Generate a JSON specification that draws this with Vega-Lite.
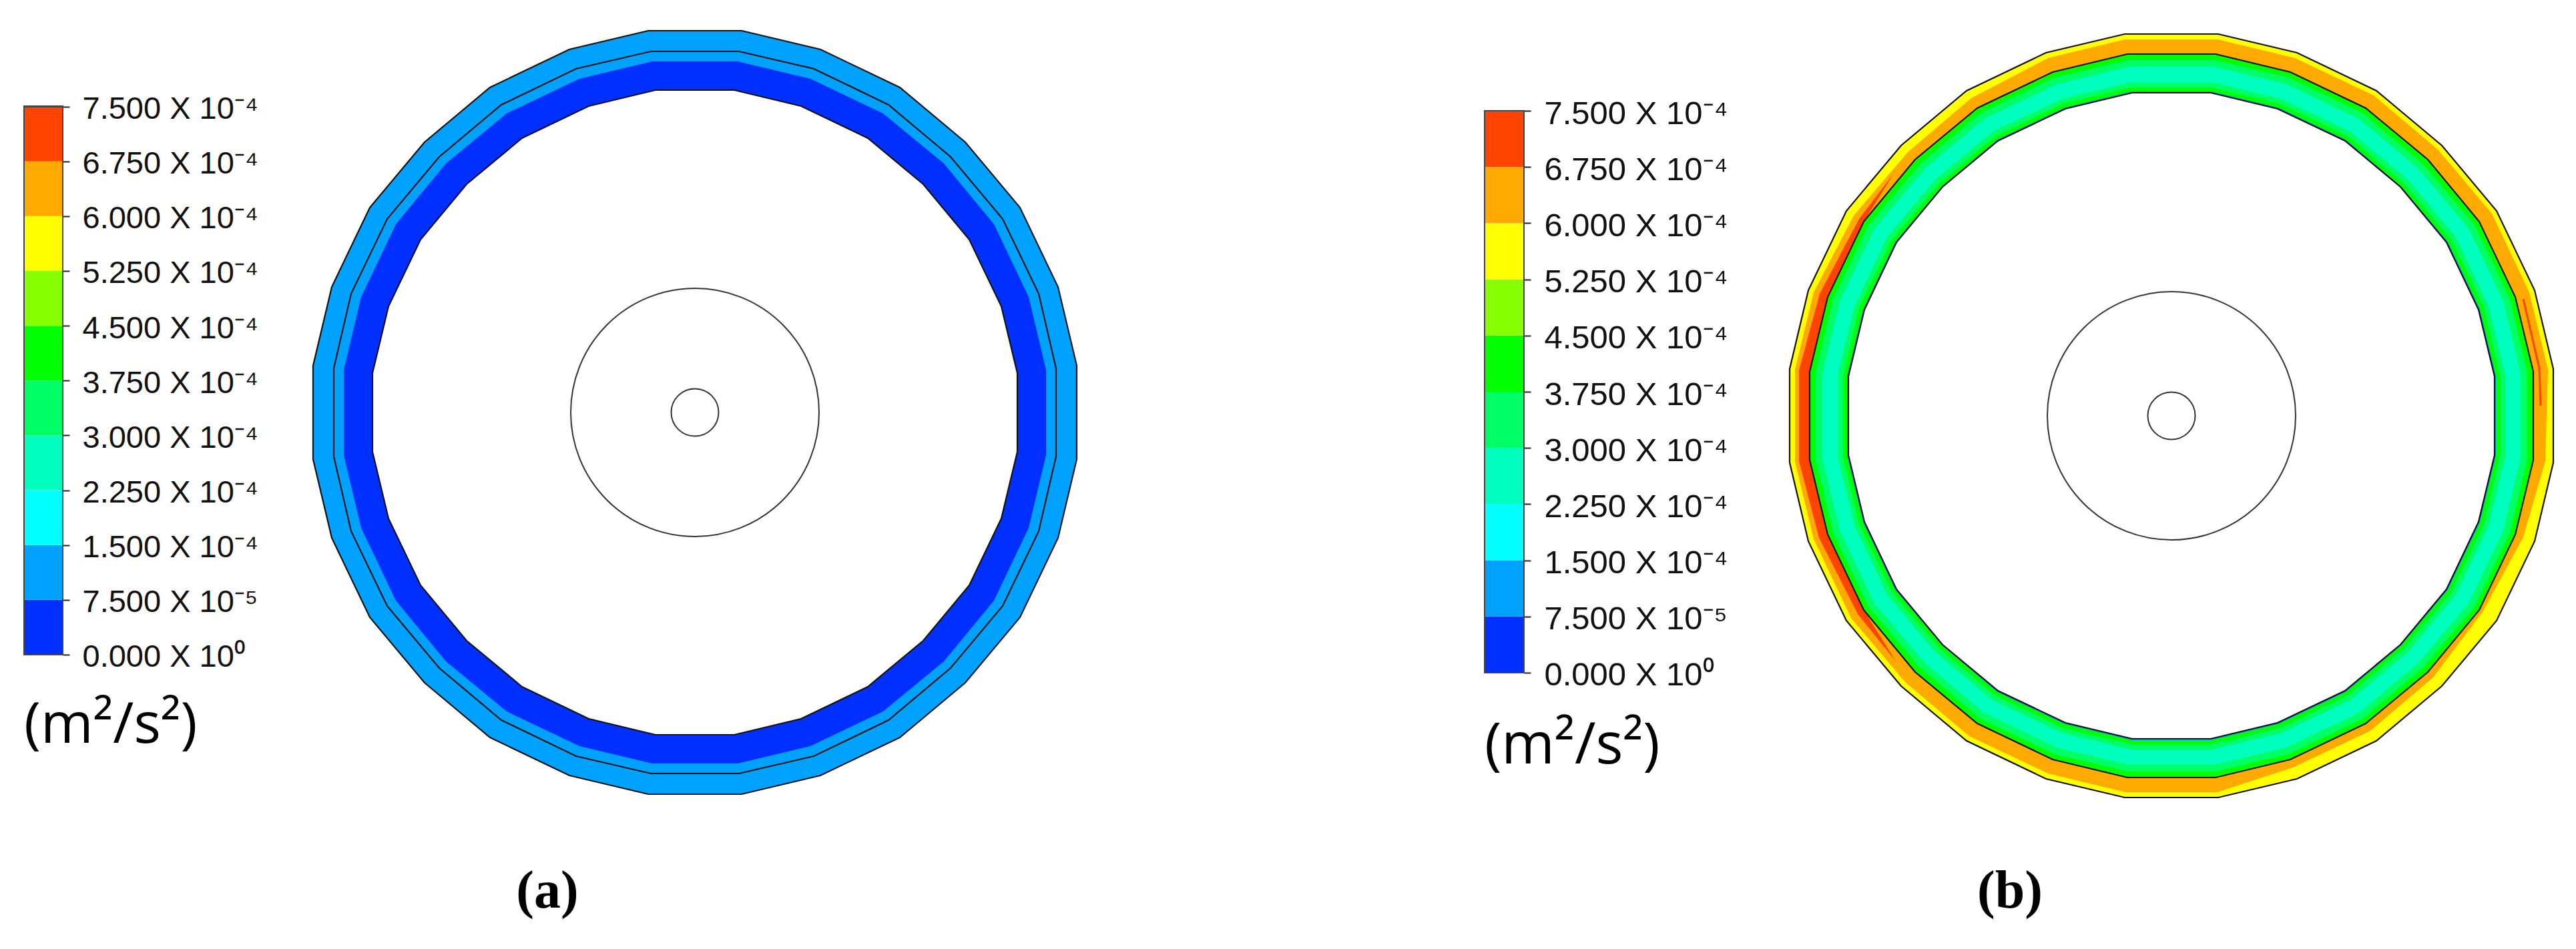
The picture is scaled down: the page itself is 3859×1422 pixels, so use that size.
{"$schema":"https://vega.github.io/schema/vega-lite/v6.json","padding":{"left":35,"top":0,"right":0,"bottom":0},"background":"white","bounds":"flush","spacing":0,"resolve":{"scale":{"fill":"independent","size":"independent"}},"config":{"view":{"stroke":null}},
"datasets":{
"bands":[{"lo":0,"hi":0.000075},{"lo":0.000075,"hi":0.00015},{"lo":0.00015,"hi":0.000225},{"lo":0.000225,"hi":0.0003},{"lo":0.0003,"hi":0.000375},{"lo":0.000375,"hi":0.00045},{"lo":0.00045,"hi":0.000525},{"lo":0.000525,"hi":0.0006},{"lo":0.0006,"hi":0.000675},{"lo":0.000675,"hi":0.00075}],
"circles":[{"x":0,"y":0,"r":186},{"x":0,"y":0,"r":35.5}],
"a":[
{"ring":"outer","x":70,"y":572},{"ring":"outer","x":188,"y":544},{"ring":"outer","x":307,"y":487},{"ring":"outer","x":405,"y":405},{"ring":"outer","x":487,"y":307},{"ring":"outer","x":544,"y":188},{"ring":"outer","x":572,"y":70},{"ring":"outer","x":572,"y":-70},{"ring":"outer","x":544,"y":-188},{"ring":"outer","x":487,"y":-307},{"ring":"outer","x":405,"y":-405},{"ring":"outer","x":307,"y":-487},{"ring":"outer","x":188,"y":-544},{"ring":"outer","x":70,"y":-572},{"ring":"outer","x":-70,"y":-572},{"ring":"outer","x":-188,"y":-544},{"ring":"outer","x":-307,"y":-487},{"ring":"outer","x":-405,"y":-405},{"ring":"outer","x":-487,"y":-307},{"ring":"outer","x":-544,"y":-188},{"ring":"outer","x":-572,"y":-70},{"ring":"outer","x":-572,"y":70},{"ring":"outer","x":-544,"y":188},{"ring":"outer","x":-487,"y":307},{"ring":"outer","x":-405,"y":405},{"ring":"outer","x":-307,"y":487},{"ring":"outer","x":-188,"y":544},{"ring":"outer","x":-70,"y":572},
{"ring":"dark","x":64,"y":526},{"ring":"dark","x":173,"y":500},{"ring":"dark","x":282,"y":448},{"ring":"dark","x":373,"y":373},{"ring":"dark","x":448,"y":282},{"ring":"dark","x":500,"y":173},{"ring":"dark","x":526,"y":64},{"ring":"dark","x":526,"y":-64},{"ring":"dark","x":500,"y":-173},{"ring":"dark","x":448,"y":-282},{"ring":"dark","x":373,"y":-373},{"ring":"dark","x":282,"y":-448},{"ring":"dark","x":173,"y":-500},{"ring":"dark","x":64,"y":-526},{"ring":"dark","x":-64,"y":-526},{"ring":"dark","x":-173,"y":-500},{"ring":"dark","x":-282,"y":-448},{"ring":"dark","x":-373,"y":-373},{"ring":"dark","x":-448,"y":-282},{"ring":"dark","x":-500,"y":-173},{"ring":"dark","x":-526,"y":-64},{"ring":"dark","x":-526,"y":64},{"ring":"dark","x":-500,"y":173},{"ring":"dark","x":-448,"y":282},{"ring":"dark","x":-373,"y":373},{"ring":"dark","x":-282,"y":448},{"ring":"dark","x":-173,"y":500},{"ring":"dark","x":-64,"y":526},
{"ring":"inner","x":59,"y":483},{"ring":"inner","x":159,"y":459},{"ring":"inner","x":259,"y":411},{"ring":"inner","x":342,"y":342},{"ring":"inner","x":411,"y":259},{"ring":"inner","x":459,"y":159},{"ring":"inner","x":483,"y":59},{"ring":"inner","x":483,"y":-59},{"ring":"inner","x":459,"y":-159},{"ring":"inner","x":411,"y":-259},{"ring":"inner","x":342,"y":-342},{"ring":"inner","x":259,"y":-411},{"ring":"inner","x":159,"y":-459},{"ring":"inner","x":59,"y":-483},{"ring":"inner","x":-59,"y":-483},{"ring":"inner","x":-159,"y":-459},{"ring":"inner","x":-259,"y":-411},{"ring":"inner","x":-342,"y":-342},{"ring":"inner","x":-411,"y":-259},{"ring":"inner","x":-459,"y":-159},{"ring":"inner","x":-483,"y":-59},{"ring":"inner","x":-483,"y":59},{"ring":"inner","x":-459,"y":159},{"ring":"inner","x":-411,"y":259},{"ring":"inner","x":-342,"y":342},{"ring":"inner","x":-259,"y":411},{"ring":"inner","x":-159,"y":459},{"ring":"inner","x":-59,"y":483},
{"ring":"line","x":66,"y":541},{"ring":"line","x":178,"y":515},{"ring":"line","x":290,"y":461},{"ring":"line","x":383,"y":383},{"ring":"line","x":461,"y":290},{"ring":"line","x":515,"y":178},{"ring":"line","x":541,"y":66},{"ring":"line","x":541,"y":-66},{"ring":"line","x":515,"y":-178},{"ring":"line","x":461,"y":-290},{"ring":"line","x":383,"y":-383},{"ring":"line","x":290,"y":-461},{"ring":"line","x":178,"y":-515},{"ring":"line","x":66,"y":-541},{"ring":"line","x":-66,"y":-541},{"ring":"line","x":-178,"y":-515},{"ring":"line","x":-290,"y":-461},{"ring":"line","x":-383,"y":-383},{"ring":"line","x":-461,"y":-290},{"ring":"line","x":-515,"y":-178},{"ring":"line","x":-541,"y":-66},{"ring":"line","x":-541,"y":66},{"ring":"line","x":-515,"y":178},{"ring":"line","x":-461,"y":290},{"ring":"line","x":-383,"y":383},{"ring":"line","x":-290,"y":461},{"ring":"line","x":-178,"y":515},{"ring":"line","x":-66,"y":541}
],
"b":[
{"ring":"yellow","x":70,"y":572},{"ring":"yellow","x":188,"y":544},{"ring":"yellow","x":307,"y":487},{"ring":"yellow","x":405,"y":405},{"ring":"yellow","x":487,"y":307},{"ring":"yellow","x":544,"y":188},{"ring":"yellow","x":572,"y":70},{"ring":"yellow","x":572,"y":-70},{"ring":"yellow","x":544,"y":-188},{"ring":"yellow","x":487,"y":-307},{"ring":"yellow","x":405,"y":-405},{"ring":"yellow","x":307,"y":-487},{"ring":"yellow","x":188,"y":-544},{"ring":"yellow","x":70,"y":-572},{"ring":"yellow","x":-70,"y":-572},{"ring":"yellow","x":-188,"y":-544},{"ring":"yellow","x":-307,"y":-487},{"ring":"yellow","x":-405,"y":-405},{"ring":"yellow","x":-487,"y":-307},{"ring":"yellow","x":-544,"y":-188},{"ring":"yellow","x":-572,"y":-70},{"ring":"yellow","x":-572,"y":70},{"ring":"yellow","x":-544,"y":188},{"ring":"yellow","x":-487,"y":307},{"ring":"yellow","x":-405,"y":405},{"ring":"yellow","x":-307,"y":487},{"ring":"yellow","x":-188,"y":544},{"ring":"yellow","x":-70,"y":572},
{"ring":"orange","x":69,"y":564},{"ring":"orange","x":185,"y":536},{"ring":"orange","x":303,"y":480},{"ring":"orange","x":399,"y":399},{"ring":"orange","x":480,"y":303},{"ring":"orange","x":536,"y":185},{"ring":"orange","x":564,"y":69},{"ring":"orange","x":560,"y":-68},{"ring":"orange","x":527,"y":-182},{"ring":"orange","x":466,"y":-294},{"ring":"orange","x":392,"y":-392},{"ring":"orange","x":298,"y":-472},{"ring":"orange","x":182,"y":-527},{"ring":"orange","x":69,"y":-564},{"ring":"orange","x":-69,"y":-564},{"ring":"orange","x":-185,"y":-536},{"ring":"orange","x":-303,"y":-480},{"ring":"orange","x":-399,"y":-399},{"ring":"orange","x":-480,"y":-303},{"ring":"orange","x":-536,"y":-185},{"ring":"orange","x":-564,"y":-69},{"ring":"orange","x":-564,"y":69},{"ring":"orange","x":-536,"y":185},{"ring":"orange","x":-476,"y":300},{"ring":"orange","x":-395,"y":395},{"ring":"orange","x":-300,"y":476},{"ring":"orange","x":-185,"y":536},{"ring":"orange","x":-69,"y":564},
{"ring":"red","x":-417,"y":362},{"ring":"red","x":-468,"y":295},{"ring":"red","x":-527,"y":183},{"ring":"red","x":-558,"y":68},{"ring":"red","x":-558,"y":-68},{"ring":"red","x":-528,"y":-183},{"ring":"red","x":-470,"y":-297},{"ring":"red","x":-413,"y":-368},{"ring":"red","x":-461,"y":-291},{"ring":"red","x":-515,"y":-178},{"ring":"red","x":-542,"y":-66},{"ring":"red","x":-542,"y":66},{"ring":"red","x":-515,"y":178},{"ring":"red","x":-461,"y":291},
{"ring":"streak","x":527,"y":175},{"ring":"streak","x":551,"y":71},{"ring":"streak","x":553,"y":15},
{"ring":"g1","x":66,"y":542},{"ring":"g1","x":178,"y":515},{"ring":"g1","x":291,"y":461},{"ring":"g1","x":384,"y":384},{"ring":"g1","x":461,"y":291},{"ring":"g1","x":515,"y":178},{"ring":"g1","x":542,"y":66},{"ring":"g1","x":542,"y":-66},{"ring":"g1","x":515,"y":-178},{"ring":"g1","x":461,"y":-291},{"ring":"g1","x":384,"y":-384},{"ring":"g1","x":291,"y":-461},{"ring":"g1","x":178,"y":-515},{"ring":"g1","x":66,"y":-542},{"ring":"g1","x":-66,"y":-542},{"ring":"g1","x":-178,"y":-515},{"ring":"g1","x":-291,"y":-461},{"ring":"g1","x":-384,"y":-384},{"ring":"g1","x":-461,"y":-291},{"ring":"g1","x":-515,"y":-178},{"ring":"g1","x":-542,"y":-66},{"ring":"g1","x":-542,"y":66},{"ring":"g1","x":-515,"y":178},{"ring":"g1","x":-461,"y":291},{"ring":"g1","x":-384,"y":384},{"ring":"g1","x":-291,"y":461},{"ring":"g1","x":-178,"y":515},{"ring":"g1","x":-66,"y":542},
{"ring":"g2","x":65,"y":533},{"ring":"g2","x":175,"y":507},{"ring":"g2","x":286,"y":454},{"ring":"g2","x":377,"y":377},{"ring":"g2","x":454,"y":286},{"ring":"g2","x":507,"y":175},{"ring":"g2","x":533,"y":65},{"ring":"g2","x":533,"y":-65},{"ring":"g2","x":507,"y":-175},{"ring":"g2","x":454,"y":-286},{"ring":"g2","x":377,"y":-377},{"ring":"g2","x":286,"y":-454},{"ring":"g2","x":175,"y":-507},{"ring":"g2","x":65,"y":-533},{"ring":"g2","x":-65,"y":-533},{"ring":"g2","x":-175,"y":-507},{"ring":"g2","x":-286,"y":-454},{"ring":"g2","x":-377,"y":-377},{"ring":"g2","x":-454,"y":-286},{"ring":"g2","x":-507,"y":-175},{"ring":"g2","x":-533,"y":-65},{"ring":"g2","x":-533,"y":65},{"ring":"g2","x":-507,"y":175},{"ring":"g2","x":-454,"y":286},{"ring":"g2","x":-377,"y":377},{"ring":"g2","x":-286,"y":454},{"ring":"g2","x":-175,"y":507},{"ring":"g2","x":-65,"y":533},
{"ring":"teal","x":64,"y":523},{"ring":"teal","x":172,"y":497},{"ring":"teal","x":281,"y":445},{"ring":"teal","x":370,"y":370},{"ring":"teal","x":445,"y":281},{"ring":"teal","x":497,"y":172},{"ring":"teal","x":523,"y":64},{"ring":"teal","x":523,"y":-64},{"ring":"teal","x":497,"y":-172},{"ring":"teal","x":445,"y":-281},{"ring":"teal","x":370,"y":-370},{"ring":"teal","x":281,"y":-445},{"ring":"teal","x":172,"y":-497},{"ring":"teal","x":64,"y":-523},{"ring":"teal","x":-64,"y":-523},{"ring":"teal","x":-172,"y":-497},{"ring":"teal","x":-281,"y":-445},{"ring":"teal","x":-370,"y":-370},{"ring":"teal","x":-445,"y":-281},{"ring":"teal","x":-497,"y":-172},{"ring":"teal","x":-523,"y":-64},{"ring":"teal","x":-523,"y":64},{"ring":"teal","x":-497,"y":172},{"ring":"teal","x":-445,"y":281},{"ring":"teal","x":-370,"y":370},{"ring":"teal","x":-281,"y":445},{"ring":"teal","x":-172,"y":497},{"ring":"teal","x":-64,"y":523},
{"ring":"g3","x":61,"y":500},{"ring":"g3","x":164,"y":475},{"ring":"g3","x":268,"y":426},{"ring":"g3","x":354,"y":354},{"ring":"g3","x":426,"y":268},{"ring":"g3","x":475,"y":164},{"ring":"g3","x":500,"y":61},{"ring":"g3","x":500,"y":-61},{"ring":"g3","x":475,"y":-164},{"ring":"g3","x":426,"y":-268},{"ring":"g3","x":354,"y":-354},{"ring":"g3","x":268,"y":-426},{"ring":"g3","x":164,"y":-475},{"ring":"g3","x":61,"y":-500},{"ring":"g3","x":-61,"y":-500},{"ring":"g3","x":-164,"y":-475},{"ring":"g3","x":-268,"y":-426},{"ring":"g3","x":-354,"y":-354},{"ring":"g3","x":-426,"y":-268},{"ring":"g3","x":-475,"y":-164},{"ring":"g3","x":-500,"y":-61},{"ring":"g3","x":-500,"y":61},{"ring":"g3","x":-475,"y":164},{"ring":"g3","x":-426,"y":268},{"ring":"g3","x":-354,"y":354},{"ring":"g3","x":-268,"y":426},{"ring":"g3","x":-164,"y":475},{"ring":"g3","x":-61,"y":500},
{"ring":"g4","x":60,"y":492},{"ring":"g4","x":162,"y":468},{"ring":"g4","x":264,"y":419},{"ring":"g4","x":348,"y":348},{"ring":"g4","x":419,"y":264},{"ring":"g4","x":468,"y":162},{"ring":"g4","x":492,"y":60},{"ring":"g4","x":492,"y":-60},{"ring":"g4","x":468,"y":-162},{"ring":"g4","x":419,"y":-264},{"ring":"g4","x":348,"y":-348},{"ring":"g4","x":264,"y":-419},{"ring":"g4","x":162,"y":-468},{"ring":"g4","x":60,"y":-492},{"ring":"g4","x":-60,"y":-492},{"ring":"g4","x":-162,"y":-468},{"ring":"g4","x":-264,"y":-419},{"ring":"g4","x":-348,"y":-348},{"ring":"g4","x":-419,"y":-264},{"ring":"g4","x":-468,"y":-162},{"ring":"g4","x":-492,"y":-60},{"ring":"g4","x":-492,"y":60},{"ring":"g4","x":-468,"y":162},{"ring":"g4","x":-419,"y":264},{"ring":"g4","x":-348,"y":348},{"ring":"g4","x":-264,"y":419},{"ring":"g4","x":-162,"y":468},{"ring":"g4","x":-60,"y":492},
{"ring":"blue","x":60,"y":486},{"ring":"blue","x":160,"y":462},{"ring":"blue","x":261,"y":414},{"ring":"blue","x":344,"y":344},{"ring":"blue","x":414,"y":261},{"ring":"blue","x":462,"y":160},{"ring":"blue","x":486,"y":60},{"ring":"blue","x":486,"y":-60},{"ring":"blue","x":462,"y":-160},{"ring":"blue","x":414,"y":-261},{"ring":"blue","x":344,"y":-344},{"ring":"blue","x":261,"y":-414},{"ring":"blue","x":160,"y":-462},{"ring":"blue","x":60,"y":-486},{"ring":"blue","x":-60,"y":-486},{"ring":"blue","x":-160,"y":-462},{"ring":"blue","x":-261,"y":-414},{"ring":"blue","x":-344,"y":-344},{"ring":"blue","x":-414,"y":-261},{"ring":"blue","x":-462,"y":-160},{"ring":"blue","x":-486,"y":-60},{"ring":"blue","x":-486,"y":60},{"ring":"blue","x":-462,"y":160},{"ring":"blue","x":-414,"y":261},{"ring":"blue","x":-344,"y":344},{"ring":"blue","x":-261,"y":414},{"ring":"blue","x":-160,"y":462},{"ring":"blue","x":-60,"y":486},
{"ring":"inner","x":59,"y":484},{"ring":"inner","x":159,"y":460},{"ring":"inner","x":260,"y":412},{"ring":"inner","x":343,"y":343},{"ring":"inner","x":412,"y":260},{"ring":"inner","x":460,"y":159},{"ring":"inner","x":484,"y":59},{"ring":"inner","x":484,"y":-59},{"ring":"inner","x":460,"y":-159},{"ring":"inner","x":412,"y":-260},{"ring":"inner","x":343,"y":-343},{"ring":"inner","x":260,"y":-412},{"ring":"inner","x":159,"y":-460},{"ring":"inner","x":59,"y":-484},{"ring":"inner","x":-59,"y":-484},{"ring":"inner","x":-159,"y":-460},{"ring":"inner","x":-260,"y":-412},{"ring":"inner","x":-343,"y":-343},{"ring":"inner","x":-412,"y":-260},{"ring":"inner","x":-460,"y":-159},{"ring":"inner","x":-484,"y":-59},{"ring":"inner","x":-484,"y":59},{"ring":"inner","x":-460,"y":159},{"ring":"inner","x":-412,"y":260},{"ring":"inner","x":-343,"y":343},{"ring":"inner","x":-260,"y":412},{"ring":"inner","x":-159,"y":460},{"ring":"inner","x":-59,"y":484}
]},
"hconcat":[
{"width":58,"height":1422,"data":{"name":"bands"},"layer":[
{"mark":{"type":"rect"},"encoding":{"y":{"field":"lo","type":"quantitative","scale":{"domain":[-0.0004027,0.0008957],"nice":false,"zero":false},"axis":{"orient":"right","title":null,"values":[0,0.000075,0.00015,0.000225,0.0003,0.000375,0.00045,0.000525,0.0006,0.000675,0.00075],"labelExpr":"['0.000 X 10⁰','7.500 X 10⁻⁵','1.500 X 10⁻⁴','2.250 X 10⁻⁴','3.000 X 10⁻⁴','3.750 X 10⁻⁴','4.500 X 10⁻⁴','5.250 X 10⁻⁴','6.000 X 10⁻⁴','6.750 X 10⁻⁴','7.500 X 10⁻⁴'][round(datum.value/0.000075)]","domain":false,"grid":false,"tickSize":10,"tickWidth":2,"tickColor":"#222","labelFont":"Liberation Sans","labelFontSize":47,"labelColor":"#111","labelPadding":19,"labelOffset":4,"labelOverlap":false,"labelBound":false,"labelFlush":false,"labelLimit":0}},"y2":{"field":"hi"},"fill":{"field":"lo","type":"ordinal","legend":null,"scale":{"domain":[0,0.000075,0.00015,0.000225,0.0003,0.000375,0.00045,0.000525,0.0006,0.000675],"range":["#0030ff","#00a2ff","#00ffff","#00ffbf","#00ff66","#00ff00","#88ff00","#ffff00","#ffaa00","#ff4400"]}}}},
{"mark":{"type":"rect","fill":"transparent","stroke":"#444","strokeWidth":2},"encoding":{"y":{"datum":0,"type":"quantitative"},"y2":{"datum":0.00075}}},
{"data":{"values":[{"unit":"(m²/s²)","at":-0.0000968}]},"mark":{"type":"text","align":"left","baseline":"middle","font":"Open Sans","fontSize":85,"color":"#000"},"encoding":{"x":{"datum":0,"type":"quantitative","scale":{"domain":[0,1]},"axis":null},"y":{"field":"at","type":"quantitative"},"text":{"field":"unit"}}}
]},
{"width":2130,"height":1422,"data":{"name":"a"},"layer":[
{"mark":{"type":"line","interpolate":"linear-closed","strokeWidth":0},"transform":[{"filter":"datum.ring!='line'"}],"encoding":{"x":{"field":"x","type":"quantitative","scale":{"domain":[-947,1183],"nice":false,"zero":false},"axis":null},"y":{"field":"y","type":"quantitative","scale":{"domain":[-804,618],"nice":false,"zero":false},"axis":null},"order":{"value":null},"fill":{"field":"ring","type":"nominal","legend":null,"scale":{"domain":["outer","dark","inner"],"range":["#00a2ff","#0030ff","#ffffff"]}}}},
{"mark":{"type":"line","interpolate":"linear-closed","strokeWidth":2.2,"color":"#111"},"transform":[{"filter":"datum.ring!='dark'"}],"encoding":{"x":{"field":"x","type":"quantitative"},"y":{"field":"y","type":"quantitative"},"order":{"value":null},"detail":{"field":"ring"}}},
{"data":{"name":"circles"},"mark":{"type":"point","filled":false,"stroke":"#333","strokeWidth":2,"opacity":1},"encoding":{"x":{"field":"x","type":"quantitative"},"y":{"field":"y","type":"quantitative"},"size":{"field":"r","type":"quantitative","legend":null,"scale":{"type":"pow","exponent":2,"domain":[0,186],"range":[0,138384]}}}},
{"data":{"values":[{"label":"(a)","x":-221,"y":-718}]},"mark":{"type":"text","font":"Liberation Serif","fontWeight":"bold","fontSize":80,"color":"#000","baseline":"middle"},"encoding":{"x":{"field":"x","type":"quantitative"},"y":{"field":"y","type":"quantitative"},"text":{"field":"label"}}}
]},
{"width":59,"height":1422,"data":{"name":"bands"},"layer":[
{"mark":{"type":"rect"},"encoding":{"y":{"field":"lo","type":"quantitative","scale":{"domain":[-0.0003688,0.0008979],"nice":false,"zero":false},"axis":{"orient":"right","title":null,"values":[0,0.000075,0.00015,0.000225,0.0003,0.000375,0.00045,0.000525,0.0006,0.000675,0.00075],"labelExpr":"['0.000 X 10⁰','7.500 X 10⁻⁵','1.500 X 10⁻⁴','2.250 X 10⁻⁴','3.000 X 10⁻⁴','3.750 X 10⁻⁴','4.500 X 10⁻⁴','5.250 X 10⁻⁴','6.000 X 10⁻⁴','6.750 X 10⁻⁴','7.500 X 10⁻⁴'][round(datum.value/0.000075)]","domain":false,"grid":false,"tickSize":10,"tickWidth":2,"tickColor":"#222","labelFont":"Liberation Sans","labelFontSize":49,"labelColor":"#111","labelPadding":20,"labelOffset":4,"labelOverlap":false,"labelBound":false,"labelFlush":false,"labelLimit":0}},"y2":{"field":"hi"},"fill":{"field":"lo","type":"ordinal","legend":null,"scale":{"domain":[0,0.000075,0.00015,0.000225,0.0003,0.000375,0.00045,0.000525,0.0006,0.000675],"range":["#0030ff","#00a2ff","#00ffff","#00ffbf","#00ff66","#00ff00","#88ff00","#ffff00","#ffaa00","#ff4400"]}}}},
{"mark":{"type":"rect","fill":"transparent","stroke":"#444","strokeWidth":2},"encoding":{"y":{"datum":0,"type":"quantitative"},"y2":{"datum":0.00075}}},
{"data":{"values":[{"unit":"(m²/s²)","at":-0.000098}]},"mark":{"type":"text","align":"left","baseline":"middle","font":"Open Sans","fontSize":86,"color":"#000"},"encoding":{"x":{"datum":0,"type":"quantitative","scale":{"domain":[0,1]},"axis":null},"y":{"field":"at","type":"quantitative"},"text":{"field":"unit"}}}
]},
{"width":1577,"height":1422,"data":{"name":"b"},"layer":[
{"mark":{"type":"line","interpolate":"linear-closed","strokeWidth":0},"transform":[{"filter":"datum.ring!='streak'"}],"encoding":{"x":{"field":"x","type":"quantitative","scale":{"domain":[-970,607],"nice":false,"zero":false},"axis":null},"y":{"field":"y","type":"quantitative","scale":{"domain":[-799,623],"nice":false,"zero":false},"axis":null},"order":{"value":null},"fill":{"field":"ring","type":"nominal","legend":null,"scale":{"domain":["yellow","orange","red","g1","g2","teal","g3","g4","blue","inner"],"range":["#ffff00","#ffaa00","#ff4400","#00ff00","#00ff66","#00ffbf","#00ff66","#00ff00","#00a2ff","#ffffff"]}}}},
{"mark":{"type":"line","strokeWidth":3,"color":"#ff4400"},"transform":[{"filter":"datum.ring=='streak'"}],"encoding":{"x":{"field":"x","type":"quantitative"},"y":{"field":"y","type":"quantitative"},"order":{"value":null}}},
{"mark":{"type":"line","interpolate":"linear-closed","strokeWidth":2.2,"color":"#111"},"transform":[{"filter":"indexof(['yellow','g1','inner'],datum.ring)>=0"}],"encoding":{"x":{"field":"x","type":"quantitative"},"y":{"field":"y","type":"quantitative"},"order":{"value":null},"detail":{"field":"ring"}}},
{"data":{"name":"circles"},"mark":{"type":"point","filled":false,"stroke":"#333","strokeWidth":2,"opacity":1},"encoding":{"x":{"field":"x","type":"quantitative"},"y":{"field":"y","type":"quantitative"},"size":{"field":"r","type":"quantitative","legend":null,"scale":{"type":"pow","exponent":2,"domain":[0,186],"range":[0,138384]}}}},
{"data":{"values":[{"label":"(b)","x":-242,"y":-713}]},"mark":{"type":"text","font":"Liberation Serif","fontWeight":"bold","fontSize":80,"color":"#000","baseline":"middle"},"encoding":{"x":{"field":"x","type":"quantitative"},"y":{"field":"y","type":"quantitative"},"text":{"field":"label"}}}
]}
]}
